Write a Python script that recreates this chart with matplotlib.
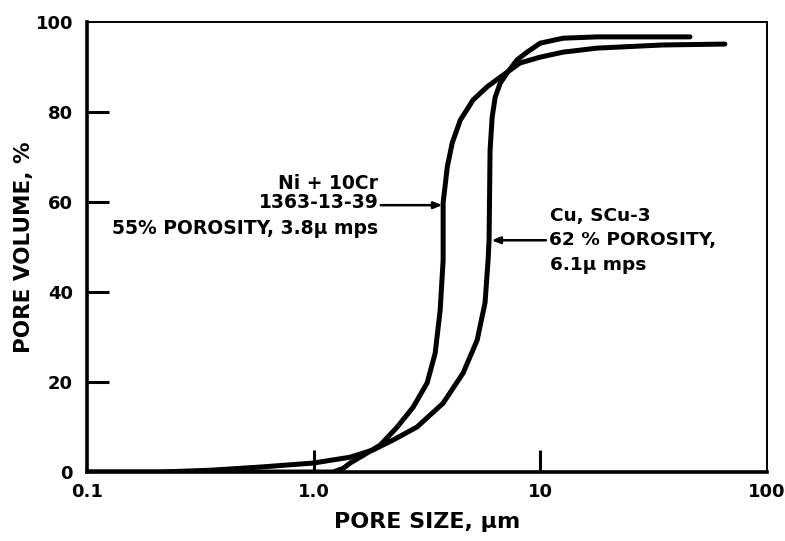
import numpy as np
import matplotlib.pyplot as plt

# Pore size distribution
# Ni + 10Cr (1363-13-39), 55% porosity, 3.8 um mps
ni_size = [0.1, 0.6, 1.0, 1.22, 1.35, 1.45, 1.72, 1.97, 2.34, 2.75, 3.17, 3.44, 3.62, 3.73, 3.73,
           3.81, 3.89, 4.09, 4.44, 5.06, 5.83, 6.86, 8.15, 10.0, 12.6, 17.8, 34.8, 65.3]
ni_vol = [0.0, 0.0, 0.0, 0.0, 0.8, 2.0, 4.2, 6.0, 10.0, 14.4, 19.8, 26.4, 36.0, 47.1, 59.8,
          63.8, 67.8, 73.1, 78.2, 82.7, 85.6, 88.2, 90.9, 92.2, 93.3, 94.2, 94.9, 95.1]

# Cu, SCu-3, 62% porosity, 6.1 um mps
cu_size = [0.1, 0.21, 0.35, 0.58, 1.0, 1.45, 1.83, 2.24, 2.86, 3.73, 4.57, 5.27, 5.71, 5.89,
           5.95, 6.01, 6.14, 6.33, 6.66, 7.15, 7.91, 8.75, 10.0, 12.6, 17.8, 45.8]
cu_vol = [0.0, 0.0, 0.4, 1.1, 2.0, 3.3, 4.9, 7.1, 10.0, 15.3, 22.0, 29.3, 37.6, 47.1,
          51.6, 71.6, 78.9, 83.3, 86.4, 88.7, 91.6, 93.3, 95.3, 96.4, 96.7, 96.7]

x_ticks = [0.1, 1.0, 10, 100]
x_labels = ['0.1', '1.0', '10', '100']
y_ticks = [0, 20, 40, 60, 80, 100]

fig = plt.figure(figsize=(7.85, 5.41), dpi=100)
ax = fig.add_axes([0.1108, 0.1275, 0.866, 0.8318])

ax.plot(ni_size, ni_vol, color='black', lw=3.6, solid_capstyle='round', solid_joinstyle='round')
ax.plot(cu_size, cu_vol, color='black', lw=3.6, solid_capstyle='round', solid_joinstyle='round')

ax.set_xscale('log')
ax.set_xlim(0.1, 100)
ax.set_ylim(0, 100)
ax.set_xticks(x_ticks)
ax.set_xticklabels(x_labels)
ax.set_yticks(y_ticks)
ax.minorticks_off()

font = dict(family='DejaVu Sans', weight='bold')
ax.tick_params(direction='in', length=16, width=2.2, labelsize=13, color='black')
ax.tick_params(axis='y', pad=10)
ax.tick_params(axis='x', pad=8)
for lab in ax.get_xticklabels() + ax.get_yticklabels():
    lab.set_fontweight('bold')

# no tick marks at the ends of the axes, only the labels
for axis in [ax.xaxis, ax.yaxis]:
    ticks = axis.get_major_ticks()
    for t in [ticks[0], ticks[-1]]:
        t.tick1line.set_visible(False)

for side in ['left', 'bottom']:
    ax.spines[side].set_linewidth(2.6)
for side in ['top', 'right']:
    ax.spines[side].set_linewidth(1.4)

ax.set_xlabel('PORE SIZE, μm', fontsize=16, labelpad=8, **font)
ax.set_ylabel('PORE VOLUME, %', fontsize=15.5, labelpad=1, **font)

# annotations
arrow = dict(arrowstyle='-|>,head_length=0.5,head_width=0.2', color='black', lw=1.8,
             shrinkA=0, shrinkB=0)
ax.annotate('', xy=(3.70, 59.3), xytext=(1.98, 59.3), arrowprops=arrow)
ax.text(1.93, 64.2, 'Ni + 10Cr', ha='right', va='center', fontsize=13.5, **font)
ax.text(1.95, 59.8, '1363-13-39', ha='right', va='center', fontsize=13.5, **font)
ax.text(1.93, 54.2, '55% POROSITY, 3.8μ mps', ha='right', va='center', fontsize=13.5, **font)

ax.annotate('', xy=(6.1, 51.5), xytext=(10.6, 51.5), arrowprops=arrow)
ax.text(11.0, 57.0, 'Cu, SCu-3', ha='left', va='center', fontsize=13.3, **font)
ax.text(10.9, 51.5, '62 % POROSITY,', ha='left', va='center', fontsize=13.3, **font)
ax.text(11.0, 46.0, '6.1μ mps', ha='left', va='center', fontsize=13.3, **font)

fig.savefig('out.png', dpi=100)
